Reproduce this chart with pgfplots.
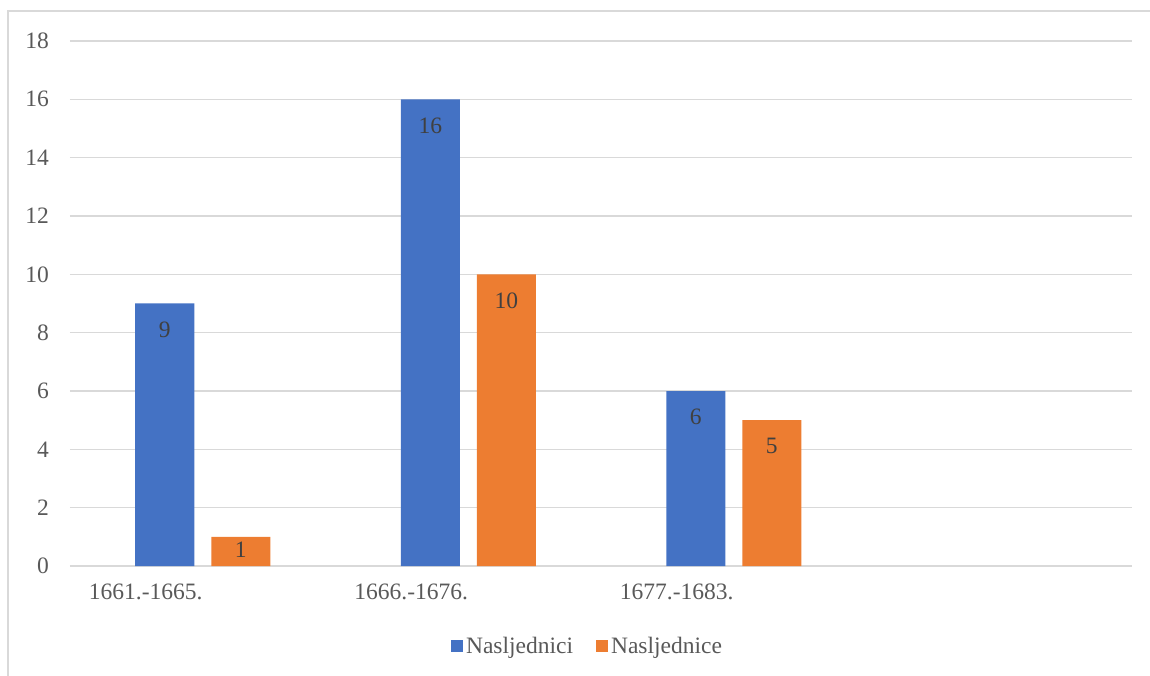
\documentclass[border=0pt]{standalone}
\usepackage{fontspec}
\setmainfont{Liberation Serif}
\usepackage{pgfplots}
\pgfplotsset{compat=1.18}
\definecolor{cblue}{HTML}{4472C4}
\definecolor{corange}{HTML}{ED7D31}
\definecolor{gridc}{HTML}{D9D9D9}
\definecolor{txt}{HTML}{595959}
\definecolor{lbl}{HTML}{404040}
\newcommand{\chfont}{\fontsize{23.5bp}{28bp}\selectfont}
\begin{document}
\begin{tikzpicture}[font=\chfont]
\useasboundingbox (-70bp,-110bp) rectangle (1080bp,566bp);
\draw[gridc, line width=1.5bp] (-62bp,-115bp) -- (-62bp,555bp) -- (1085bp,555bp);
\begin{axis}[
  at={(0,0)}, anchor=south west,
  scale only axis, width=1062bp, height=525bp,
  ybar=17bp, bar width=59bp,
  xmin=-0.5, xmax=3.5, ymin=0, ymax=18,
  xtick={0,1,2}, xticklabels={1661.-1665., 1666.-1676., 1677.-1683.},
  ytick={0,2,...,18},
  ymajorgrids, grid style={gridc, line width=1.5bp},
  axis line style={draw=none}, major tick length=0pt,
  /pgf/number format/assume math mode=true,
  tick label style={text=txt, font=\chfont, inner sep=0pt},
  xticklabel style={anchor=north east, yshift=-18bp},
  yticklabel style={anchor=east, xshift=-21bp},
  visualization depends on={rawy\as\rawy},
  nodes near coords,
  nodes near coords style={anchor=north, yshift={(\rawy<2 ? -5 : -18)*1bp}, inner sep=0pt, text=lbl, font=\chfont},
  legend style={at={(0.4878,-0.152)}, anchor=center, draw=none, legend columns=2, font=\chfont, text=txt,
    nodes={inner sep=3bp},
    /tikz/every even column/.append style={column sep=20bp}},
  legend image code/.code={\fill[#1] (-2bp,-6bp) rectangle (10bp,6bp);},
]
\addplot[fill=cblue, draw=none] coordinates {(0,9) (1,16) (2,6)};
\addplot[fill=corange, draw=none] coordinates {(0,1) (1,10) (2,5)};
\legend{Nasljednici, Nasljednice}
\end{axis}
\end{tikzpicture}
\end{document}
